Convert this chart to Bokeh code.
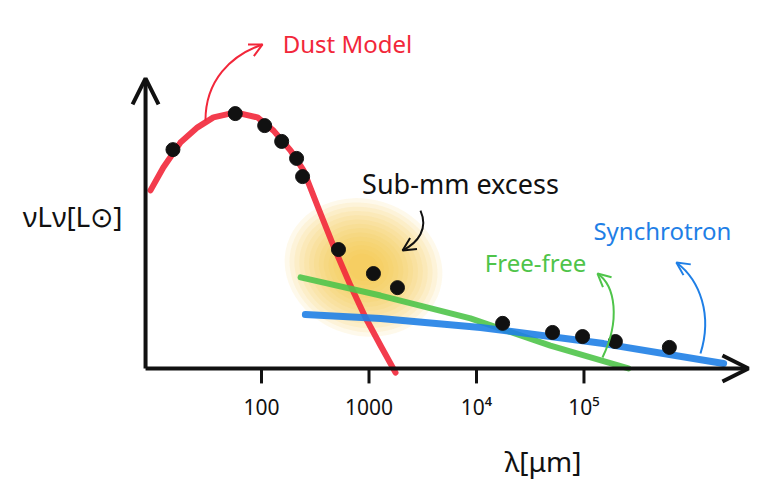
from bokeh.plotting import figure
from bokeh.models import Range1d, Arrow, OpenHead, Label
from bokeh.core.properties import value
from bokeh.embed import file_html
from bokeh.resources import INLINE

# ---- data (wavelength in micron, nuL_nu in arbitrary units) ----
obs_wavelength = [15, 57, 107, 154, 212, 241, 520, 1100, 1840,
                  17500, 51000, 97000, 196000, 623000]
obs_lum = [74.7, 87.0, 82.9, 77.5, 71.7, 65.5, 40.6, 32.4, 27.6,
           15.4, 12.3, 10.9, 9.2, 7.2]

dust_wavelength = [9.27, 12.2, 17.6, 25.4, 35.7, 57.3, 91.8, 129.4, 186.2,
                   246, 339, 477, 673, 927, 1280, 1766]
dust_lum = [60.8, 68.6, 77.1, 82.3, 85.7, 87.4, 85.7, 81.2, 74.4,
            67.6, 54.6, 41.0, 28.3, 17.4, 7.85, -1.4]

freefree_wavelength = [231, 1280, 8790, 48700, 259000]
freefree_lum = [31.1, 24.9, 17.1, 7.8, 0.0]

synch_wavelength = [256, 1280, 10900, 151700, 1990000]
synch_lum = [18.4, 17.1, 14.0, 8.5, 1.7]

tick_values = [100, 1000, 10000, 100000]
tick_labels = ["100", "1000", "10\u2074", "10\u2075"]

RED = "#f2273a"
GREEN = "#4fc44a"
BLUE = "#1f7fe6"
BLACK = "#111111"
FONT = "Noto Sans"

p = figure(width=766, height=496, x_axis_type="log",
           x_axis_location=None, y_axis_location=None,
           output_backend="svg", toolbar_location=None,
           x_range=Range1d(0.373, 4.99e6), y_range=Range1d(-43.69, 125.6),
           min_border_left=0, min_border_right=0, min_border_top=0,
           min_border_bottom=0)
p.outline_line_color = None
p.grid.visible = False
p.background_fill_color = "white"
p.border_fill_color = "white"

# sub-mm excess glow
for i in range(14):
    f = 1.05 - i * 0.065
    p.ellipse(x=[889], y=[34.5], width=152 * f, height=130 * f,
              width_units="screen", height_units="screen", angle=-0.3,
              fill_color="#f8c63e", fill_alpha=0.1, line_color=None)

# model components
p.line(dust_wavelength, dust_lum, line_width=6, line_color=RED, line_alpha=0.9,
       line_cap="round", line_join="round")
p.line(freefree_wavelength, freefree_lum, line_width=6, line_color=GREEN, line_alpha=0.9,
       line_cap="round", line_join="round")
p.line(synch_wavelength, synch_lum, line_width=7, line_color=BLUE, line_alpha=0.9,
       line_cap="round", line_join="round")

# observations
p.scatter(obs_wavelength, obs_lum, size=14, color=BLACK)

# axes with arrows
p.add_layout(Arrow(x_start=8.34, y_start=0, x_end=3.39e6, y_end=0,
                   line_width=4, line_color=BLACK,
                   end=OpenHead(size=26, line_width=4, line_color=BLACK)))
p.add_layout(Arrow(x_start=8.34, y_start=0, x_end=8.34, y_end=99.0,
                   line_width=4, line_color=BLACK,
                   end=OpenHead(size=26, line_width=4, line_color=BLACK)))

# x ticks and tick labels
p.segment(x0=tick_values, y0=[0] * len(tick_values), x1=tick_values,
          y1=[-5.1] * len(tick_values), line_width=3, line_color=BLACK)
p.text(x=tick_values, y=[-13.3] * len(tick_values), text=tick_labels,
       text_font=value(FONT), text_font_size="21px", text_color=BLACK,
       text_align="center", text_baseline="middle")

# curved pointer arrows
curves = [
    # x0, y0, cx0, cy0, cx1, cy1, x1, y1, head_from_x, head_from_y, color
    (30.1, 84.6, 30.1, 98.3, 51.5, 106.8, 102.2, 110.6, 63.8, 106.8, RED),
    (3013, 53.9, 3572, 47.8, 2884, 43.0, 2052, 40.3, 2432, 42.0, BLACK),
    (148600, 3.75, 218600, 16.4, 196400, 28.3, 133600, 32.4, 158500, 30.0, GREEN),
    (1213000, 5.12, 1567000, 18.1, 1213000, 30.0, 724000, 36.2, 937000, 33.4, BLUE),
]
for x0, y0, cx0, cy0, cx1, cy1, x1, y1, hx, hy, c in curves:
    p.bezier(x0=[x0], y0=[y0], cx0=[cx0], cy0=[cy0], cx1=[cx1], cy1=[cy1],
             x1=[x1], y1=[y1], line_color=c, line_width=2)
    p.add_layout(Arrow(x_start=hx, y_start=hy, x_end=x1, y_end=y1,
                       line_alpha=0, line_width=2,
                       end=OpenHead(size=13, line_width=2, line_color=c)))

# texts
texts = [
    ("Dust Model", 631, 110.9, RED, "24px"),
    ("Sub-mm excess", 7100, 63.1, BLACK, "27px"),
    ("Free-free", 35400, 36.2, GREEN, "24px"),
    ("Synchrotron", 537000, 47.1, BLUE, "24px"),
    ("\u03bdL\u03bd[L\u2299]", 1.75, 52.2, BLACK, "28px"),
    ("\u03bb[\u03bcm]", 41700, -31.7, BLACK, "28px"),
]
for t, x, y, c, s in texts:
    p.add_layout(Label(x=x, y=y, text=t, text_color=c, text_font=FONT,
                       text_font_size=s, text_align="center",
                       text_baseline="middle"))

open("out.html", "w").write(file_html(p, INLINE))
